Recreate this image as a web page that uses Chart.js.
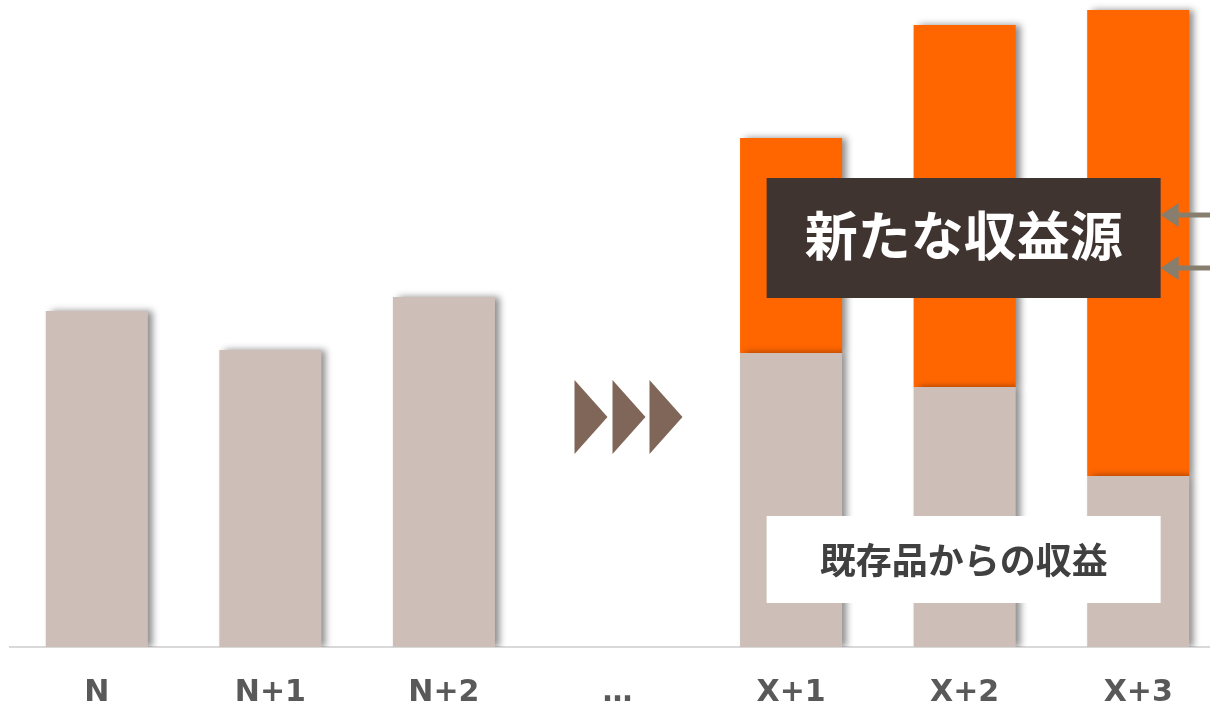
<!DOCTYPE html>
<html>
<head>
<meta charset="utf-8">
<script src="https://cdn.jsdelivr.net/npm/chart.js@4/dist/chart.umd.min.js"></script>
<style>
html,body{margin:0;padding:0;overflow:hidden;background:#fff;width:1210px;height:707px;}
#wrap{position:absolute;left:0;top:0;width:1225px;height:740px;}
</style>
</head>
<body>
<div id="wrap"><canvas id="c" width="1225" height="740"></canvas></div>
<script>
const categories = ['N', 'N+1', 'N+2', '…', 'X+1', 'X+2', 'X+3'];
const existingRevenue = [33.6, 29.7, 35.0, null, 29.4, 26.0, 17.1];
const newRevenue = [null, null, null, null, 21.5, 36.2, 46.6];
const newLabel = '新たな収益源';
const existingLabel = '既存品からの収益';

const shadowPlugin = {
  id: 'barShadow',
  beforeDatasetsDraw(chart) {
    const ctx = chart.ctx;
    ctx.save();
    ctx.shadowColor = 'rgba(0,0,0,0.45)';
    ctx.shadowOffsetX = 5;
    ctx.shadowOffsetY = 0;
    ctx.shadowBlur = 7;
  },
  afterDatasetsDraw(chart) {
    chart.ctx.restore();
  }
};

const decoPlugin = {
  id: 'deco',
  afterDraw(chart) {
    const ctx = chart.ctx;
    const xs = chart.scales.x;
    const ys = chart.scales.y;
    const cx = xs.getPixelForValue(3);
    const cy = ys.getPixelForValue(23.0);
    ctx.save();
    ctx.fillStyle = '#7f6659';
    [-43, -5, 32].forEach(off => {
      ctx.beginPath();
      ctx.moveTo(cx + off, cy - 37);
      ctx.lineTo(cx + off + 33, cy);
      ctx.lineTo(cx + off, cy + 37);
      ctx.closePath();
      ctx.fill();
    });
    const bx = xs.getPixelForValue(5);
    const left = bx - 198, right = bx + 196;
    ctx.fillStyle = '#3f3430';
    ctx.fillRect(left, 178, right - left, 120);
    ctx.fillStyle = '#ffffff';
    ctx.font = 'bold 53px "Noto Sans CJK JP", sans-serif';
    ctx.textAlign = 'center';
    ctx.textBaseline = 'middle';
    ctx.fillText(newLabel, (left + right) / 2, 236);
    ctx.fillStyle = '#ffffff';
    ctx.fillRect(left, 516, right - left, 87);
    ctx.fillStyle = '#404040';
    ctx.font = 'bold 36px "Noto Sans CJK JP", sans-serif';
    ctx.fillText(existingLabel, (left + right) / 2, 560);
    ctx.strokeStyle = '#877e6e';
    ctx.fillStyle = '#877e6e';
    ctx.lineWidth = 5;
    [215, 268].forEach(y => {
      ctx.beginPath();
      ctx.moveTo(1172, y);
      ctx.lineTo(1230, y);
      ctx.stroke();
      ctx.beginPath();
      ctx.moveTo(right, y);
      ctx.lineTo(right + 18, y - 12);
      ctx.lineTo(right + 18, y + 12);
      ctx.closePath();
      ctx.fill();
    });
    ctx.restore();
  }
};

new Chart(document.getElementById('c'), {
  type: 'bar',
  data: {
    labels: categories,
    datasets: [
      { label: existingLabel, data: existingRevenue, backgroundColor: '#cdbfb8', borderWidth: 0 },
      { label: newLabel, data: newRevenue, backgroundColor: '#ff6600', borderWidth: 0 }
    ]
  },
  options: {
    responsive: false,
    animation: false,
    layout: { padding: { left: 10, right: 0, top: 0, bottom: 0 } },
    datasets: { bar: { barPercentage: 0.588, categoryPercentage: 1.0 } },
    plugins: { legend: { display: false }, tooltip: { enabled: false } },
    scales: {
      x: {
        stacked: true,
        grid: { display: false, drawTicks: false },
        border: { display: true, color: '#d9d9d9', width: 2 },
        ticks: {
          color: '#595959',
          padding: 30,
          font: { family: '"DejaVu Sans", Verdana, sans-serif', size: 30, weight: 'bold', lineHeight: 1.1 }
        }
      },
      y: {
        stacked: true,
        display: false,
        min: 0,
        max: 64.7
      }
    }
  },
  plugins: [shadowPlugin, decoPlugin]
});
</script>
</body>
</html>
